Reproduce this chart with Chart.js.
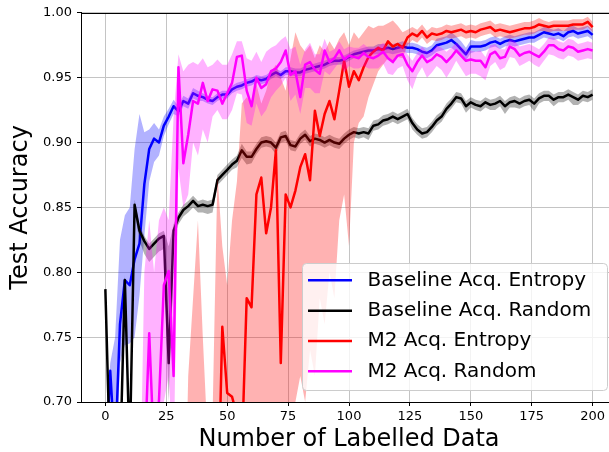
<!DOCTYPE html>
<html><head><meta charset="utf-8">
<script src="https://cdn.jsdelivr.net/npm/chart.js@4.4.1/dist/chart.umd.min.js"></script>
<style>html,body{margin:0;padding:0;overflow:hidden;background:#fff;width:609px;height:452px}canvas{display:block}</style>
</head><body>
<canvas id="c" width="625" height="452"></canvas>
<script>
const xValues = [0,2,4,6,8,10,12,14,16,18,20,22,24,26,28,30,32,34,36,38,40,42,44,46,48,50,52,54,56,58,60,62,64,66,68,70,72,74,76,78,80,82,84,86,88,90,92,94,96,98,100,102,104,106,108,110,112,114,116,118,120,122,124,126,128,130,132,134,136,138,140,142,144,146,148,150,152,154,156,158,160,162,164,166,168,170,172,174,176,178,180,182,184,186,188,190,192,194,196,198,200];

const seriesNames = ['Baseline Acq. Entropy','Baseline Acq. Random','M2 Acq. Entropy','M2 Acq. Random'];

const blueMean = [0.65,0.724,0.66,0.76,0.794,0.79,0.81,0.822,0.868,0.895,
 0.903,0.9,0.913,0.92,0.928,0.924,0.932,0.93,0.938,0.936,
 0.935,0.933,0.932,0.935,0.937,0.937,0.941,0.943,0.944,0.946,
 0.947,0.949,0.948,0.949,0.952,0.954,0.952,0.955,0.955,0.954,
 0.954,0.956,0.957,0.958,0.959,0.96,0.962,0.963,0.963,0.964,
 0.966,0.968,0.969,0.97,0.971,0.971,0.972,0.972,0.973,0.972,
 0.973,0.974,0.973,0.973,0.972,0.97,0.969,0.971,0.975,0.976,
 0.977,0.979,0.976,0.972,0.968,0.974,0.974,0.974,0.975,0.977,
 0.978,0.976,0.978,0.979,0.978,0.979,0.98,0.981,0.981,0.983,
 0.985,0.984,0.983,0.984,0.982,0.985,0.986,0.984,0.985,0.986,
 0.983];
const blueDown = [0.05,0.03,0.03,0.03,0.05,0.045,0.06,0.04,0.04,0.025,
 0.018,0.01,0.008,0.006,0.006,0.004,0.004,0.004,0.004,0.004,
 0.003,0.003,0.003,0.003,0.003,0.003,0.003,0.003,0.003,0.003,
 0.003,0.003,0.003,0.003,0.003,0.003,0.003,0.003,0.003,0.003,
 0.003,0.003,0.003,0.003,0.003,0.003,0.003,0.003,0.003,0.003,
 0.003,0.003,0.003,0.003,0.003,0.003,0.004,0.004,0.004,0.004,
 0.004,0.004,0.004,0.004,0.004,0.004,0.004,0.004,0.005,0.005,
 0.005,0.006,0.006,0.006,0.005,0.005,0.004,0.004,0.004,0.004,
 0.004,0.004,0.004,0.004,0.004,0.004,0.004,0.004,0.004,0.004,
 0.004,0.004,0.004,0.004,0.004,0.004,0.004,0.004,0.004,0.004,
 0.004];
const blueUp = [0.03,0.006,0.09,0.065,0.05,0.06,0.085,0.1,0.04,0.015,
 0.012,0.01,0.007,0.006,0.005,0.004,0.004,0.004,0.004,0.004,
 0.003,0.003,0.003,0.003,0.003,0.003,0.003,0.003,0.003,0.003,
 0.003,0.003,0.003,0.003,0.003,0.003,0.003,0.003,0.003,0.003,
 0.003,0.003,0.003,0.003,0.003,0.003,0.003,0.003,0.003,0.003,
 0.003,0.003,0.003,0.003,0.003,0.003,0.004,0.004,0.004,0.004,
 0.004,0.004,0.004,0.004,0.004,0.004,0.004,0.004,0.005,0.005,
 0.005,0.006,0.006,0.006,0.005,0.005,0.004,0.004,0.004,0.004,
 0.004,0.004,0.004,0.004,0.004,0.004,0.004,0.004,0.004,0.004,
 0.004,0.004,0.004,0.004,0.004,0.004,0.004,0.004,0.004,0.004,
 0.004];

const blackMean = [0.787,0.65,0.65,0.65,0.794,0.66,0.852,0.832,0.824,0.818,
 0.822,0.826,0.828,0.73,0.832,0.842,0.848,0.851,0.855,0.851,
 0.852,0.851,0.852,0.871,0.875,0.879,0.883,0.886,0.894,0.889,
 0.889,0.895,0.9,0.901,0.9,0.896,0.904,0.905,0.898,0.897,
 0.903,0.906,0.901,0.903,0.902,0.9,0.902,0.9,0.899,0.903,
 0.906,0.908,0.907,0.908,0.907,0.913,0.914,0.917,0.918,0.92,
 0.918,0.92,0.922,0.915,0.91,0.907,0.908,0.912,0.917,0.92,
 0.926,0.93,0.935,0.934,0.928,0.931,0.929,0.928,0.931,0.929,
 0.93,0.932,0.928,0.931,0.932,0.93,0.932,0.933,0.93,0.934,
 0.936,0.936,0.933,0.935,0.935,0.937,0.935,0.933,0.936,0.935,
 0.937];
const blackDown = [0.003,0,0,0,0.004,0,0.006,0.008,0.01,0.01,
 0.01,0.01,0.01,0.03,0.006,0.005,0.005,0.005,0.005,0.005,
 0.006,0.006,0.006,0.004,0.004,0.004,0.004,0.005,0.006,0.006,
 0.005,0.004,0.004,0.004,0.004,0.005,0.004,0.004,0.004,0.004,
 0.004,0.004,0.004,0.004,0.004,0.004,0.004,0.004,0.004,0.004,
 0.004,0.004,0.004,0.004,0.005,0.004,0.004,0.004,0.004,0.004,
 0.004,0.004,0.004,0.005,0.004,0.004,0.004,0.004,0.004,0.004,
 0.004,0.004,0.004,0.004,0.005,0.004,0.004,0.004,0.004,0.004,
 0.005,0.004,0.006,0.004,0.005,0.004,0.004,0.004,0.006,0.004,
 0.004,0.004,0.005,0.004,0.004,0.004,0.006,0.004,0.004,0.004,
 0.004];
const blackUp = [0.003,0,0,0,0.004,0,0.004,0.004,0.004,0.004,
 0.004,0.004,0.004,0.09,0.005,0.004,0.004,0.004,0.004,0.004,
 0.004,0.004,0.004,0.004,0.004,0.004,0.004,0.004,0.005,0.004,
 0.004,0.004,0.004,0.004,0.004,0.004,0.004,0.004,0.004,0.004,
 0.004,0.004,0.004,0.004,0.004,0.004,0.004,0.004,0.004,0.004,
 0.004,0.004,0.004,0.004,0.004,0.004,0.004,0.004,0.004,0.004,
 0.004,0.004,0.004,0.004,0.004,0.004,0.004,0.004,0.004,0.004,
 0.004,0.004,0.004,0.004,0.004,0.004,0.004,0.004,0.004,0.004,
 0.004,0.004,0.004,0.004,0.004,0.004,0.004,0.004,0.004,0.004,
 0.004,0.004,0.004,0.004,0.004,0.004,0.004,0.004,0.004,0.004,
 0.004];

const redMean = [0.55,0.55,0.55,0.55,0.55,0.55,0.55,0.55,0.55,0.55,
 0.55,0.55,0.55,0.55,0.55,0.55,0.55,0.55,0.55,0.55,
 0.55,0.55,0.55,0.6,0.758,0.707,0.704,0.69,0.66,0.78,
 0.773,0.86,0.873,0.83,0.85,0.894,0.73,0.86,0.85,0.863,
 0.881,0.891,0.871,0.9245,0.905,0.922,0.932,0.918,0.94,0.963,
 0.943,0.955,0.948,0.958,0.966,0.97,0.973,0.971,0.978,0.974,
 0.976,0.973,0.981,0.984,0.982,0.986,0.981,0.984,0.983,0.984,
 0.986,0.985,0.986,0.987,0.985,0.986,0.985,0.987,0.988,0.989,
 0.986,0.987,0.986,0.985,0.986,0.987,0.988,0.988,0.989,0.991,
 0.99,0.989,0.99,0.99,0.99,0.99,0.991,0.991,0.991,0.993,
 0.989];
const redDown = [0,0,0,0,0,0,0,0,0,0,
 0,0,0,0,0,0,0,0,0,0,
 0,0,0,0.05,0.138,0.107,0.104,0.09,0.06,0.13,
 0.093,0.16,0.213,0.13,0.17,0.244,0.07,0.16,0.17,0.163,
 0.161,0.191,0.131,0.2045,0.125,0.162,0.132,0.138,0.1,0.103,
 0.123,0.055,0.033,0.038,0.031,0.025,0.018,0.011,0.013,0.012,
 0.01,0.008,0.006,0.005,0.005,0.005,0.005,0.005,0.005,0.005,
 0.005,0.005,0.005,0.005,0.005,0.005,0.005,0.005,0.005,0.005,
 0.005,0.005,0.005,0.005,0.005,0.005,0.005,0.005,0.005,0.005,
 0.004,0.004,0.004,0.004,0.004,0.004,0.004,0.004,0.004,0.004,
 0.004];
const redUp = [0,0,0,0,0,0,0,0,0,0,
 0,0,0,0,0,0,0,0.17,0.23,0.29,
 0.2,0.12,0.14,0.275,0.062,0.083,0.136,0.18,0.27,0.155,
 0.157,0.085,0.057,0.11,0.105,0.066,0.22,0.08,0.115,0.122,
 0.094,0.079,0.104,0.0405,0.07,0.048,0.046,0.054,0.04,0.022,
 0.032,0.03,0.032,0.027,0.024,0.018,0.017,0.019,0.014,0.02,
 0.014,0.012,0.006,0.005,0.005,0.005,0.005,0.005,0.005,0.005,
 0.005,0.005,0.005,0.005,0.005,0.005,0.005,0.005,0.005,0.005,
 0.005,0.005,0.005,0.005,0.005,0.005,0.005,0.005,0.005,0.005,
 0.004,0.004,0.004,0.004,0.004,0.004,0.004,0.004,0.004,0.004,
 0.004];

const magMean = [0.6,0.6,0.6,0.6,0.6,0.6,0.6,0.6,0.65,0.753,
 0.66,0.701,0.79,0.801,0.72,0.958,0.884,0.906,0.932,0.93,
 0.946,0.932,0.941,0.94,0.93,0.938,0.946,0.966,0.967,0.94,
 0.928,0.95,0.942,0.945,0.955,0.957,0.962,0.971,0.952,0.955,
 0.935,0.96,0.962,0.956,0.953,0.971,0.962,0.965,0.971,0.964,
 0.967,0.966,0.965,0.969,0.966,0.965,0.967,0.97,0.965,0.962,
 0.967,0.968,0.96,0.955,0.962,0.967,0.962,0.964,0.968,0.966,
 0.962,0.966,0.971,0.967,0.963,0.964,0.963,0.963,0.958,0.968,
 0.97,0.965,0.966,0.974,0.972,0.967,0.969,0.97,0.968,0.966,
 0.97,0.975,0.975,0.972,0.971,0.974,0.973,0.97,0.971,0.972,
 0.971];
const magDown = [0,0,0,0,0,0,0,0,0.05,0.093,
 0.06,0.081,0.09,0.081,0.07,0.078,0.034,0.046,0.032,0.04,
 0.036,0.032,0.021,0.015,0.012,0.02,0.021,0.028,0.03,0.025,
 0.015,0.02,0.022,0.02,0.02,0.017,0.018,0.021,0.02,0.018,
 0.013,0.018,0.02,0.018,0.015,0.016,0.01,0.008,0.009,0.01,
 0.008,0.009,0.008,0.01,0.009,0.008,0.01,0.009,0.012,0.01,
 0.01,0.009,0.012,0.014,0.01,0.009,0.012,0.01,0.009,0.01,
 0.012,0.01,0.008,0.01,0.012,0.011,0.01,0.012,0.01,0.009,
 0.008,0.009,0.008,0.008,0.007,0.008,0.008,0.007,0.008,0.008,
 0.007,0.007,0.008,0.007,0.007,0.007,0.007,0.007,0.007,0.007,
 0.007];
const magUp = [0,0,0,0,0,0,0,0,0.15,0.087,
 0.14,0.139,0.06,0.039,0.2,0.01,0.071,0.054,0.03,0.03,
 0.019,0.026,0.019,0.024,0.03,0.022,0.022,0.012,0.011,0.025,
 0.035,0.02,0.02,0.025,0.018,0.018,0.017,0.011,0.02,0.019,
 0.025,0.012,0.015,0.012,0.015,0.009,0.008,0.007,0.007,0.008,
 0.007,0.007,0.008,0.007,0.007,0.008,0.007,0.007,0.008,0.008,
 0.007,0.007,0.008,0.008,0.007,0.007,0.008,0.007,0.007,0.007,
 0.008,0.007,0.006,0.007,0.008,0.007,0.007,0.008,0.008,0.007,
 0.006,0.007,0.006,0.006,0.006,0.007,0.006,0.006,0.006,0.006,
 0.006,0.006,0.006,0.006,0.006,0.006,0.006,0.006,0.006,0.006,
 0.006];

const xTickValues = [0,25,50,75,100,125,150,175,200];
const xTickLabels = ['0','25','50','75','100','125','150','175','200'];
const yTickValues = [0.70,0.75,0.80,0.85,0.90,0.95,1.00];
const yTickLabels = ['0.70','0.75','0.80','0.85','0.90','0.95','1.00'];

const FONT = 'DejaVu Sans';
const series = [
  {name: seriesNames[0], mean: blueMean, down: blueDown, up: blueUp, color: '#0000ff', band: 'rgba(0,0,255,0.3)'},
  {name: seriesNames[1], mean: blackMean, down: blackDown, up: blackUp, color: '#000000', band: 'rgba(0,0,0,0.3)'},
  {name: seriesNames[2], mean: redMean, down: redDown, up: redUp, color: '#ff0000', band: 'rgba(255,0,0,0.3)'},
  {name: seriesNames[3], mean: magMean, down: magDown, up: magUp, color: '#ff00ff', band: 'rgba(255,0,255,0.3)'}
];

const datasets = [];
series.forEach((s, k) => {
  const base = 12 - 3 * k;
  datasets.push({label: s.name + ' lo', data: xValues.map((x, i) => ({x, y: s.mean[i] - s.down[i]})),
    borderColor: 'rgba(0,0,0,0)', borderWidth: 0, pointRadius: 0, fill: false, order: base});
  datasets.push({label: s.name + ' hi', data: xValues.map((x, i) => ({x, y: s.mean[i] + s.up[i]})),
    borderColor: 'rgba(0,0,0,0)', borderWidth: 0, pointRadius: 0, fill: '-1', backgroundColor: s.band, order: base - 1});
  datasets.push({label: s.name, data: xValues.map((x, i) => ({x, y: s.mean[i]})),
    borderColor: s.color, borderWidth: 2.5, pointRadius: 0, fill: false, order: base - 2, clip: 0,
    borderJoinStyle: 'round', borderCapStyle: 'butt'});
});

const decor = {
  id: 'decor',
  afterDatasetsDraw(chart) {
    const {ctx, chartArea: a} = chart;
    ctx.save();
    ctx.strokeStyle = '#000';
    ctx.lineWidth = 1;
    ctx.beginPath();
    ctx.moveTo(a.left, Math.round(a.top) + 0.5);
    ctx.lineTo(a.right, Math.round(a.top) + 0.5);
    ctx.moveTo(Math.round(a.right) - 0.5, a.top);
    ctx.lineTo(Math.round(a.right) - 0.5, a.bottom);
    ctx.stroke();
    ctx.restore();
  },
  afterDraw(chart) {
    const {ctx} = chart;
    const bx = 302, by = 263, bw = 305, bh = 127;
    ctx.save();
    ctx.beginPath();
    ctx.roundRect(bx + 0.5, by + 0.5, bw, bh, 4);
    ctx.fillStyle = 'rgba(255,255,255,0.8)';
    ctx.fill();
    ctx.strokeStyle = '#cccccc';
    ctx.lineWidth = 1;
    ctx.stroke();
    ctx.font = '20px "' + FONT + '"';
    ctx.textBaseline = 'middle';
    ctx.textAlign = 'left';
    series.forEach((s, k) => {
      const y = 280.3 + k * 30.35;
      ctx.beginPath();
      ctx.moveTo(308, y);
      ctx.lineTo(352, y);
      ctx.strokeStyle = s.color;
      ctx.lineWidth = 2.5;
      ctx.stroke();
      ctx.fillStyle = '#000';
      ctx.fillText(s.name, 367.5, y);
    });
    ctx.restore();
  }
};

new Chart(document.getElementById('c'), {
  type: 'line',
  data: {datasets},
  plugins: [decor],
  options: {
    responsive: false,
    devicePixelRatio: 1,
    animation: false,
    layout: {padding: {top: 12, right: 8, bottom: 0, left: 0}},
    plugins: {legend: {display: false}, tooltip: {enabled: false}},
    elements: {line: {tension: 0}},
    scales: {
      x: {
        type: 'linear', min: -10, max: 210,
        afterBuildTicks: (axis) => { axis.ticks = xTickValues.map(v => ({value: v})); },
        afterFit: (s) => { s.height = 50; },
        ticks: {callback: (v, i) => xTickLabels[i], font: {family: FONT, size: 13}, color: '#000', padding: 3, maxRotation: 0, autoSkip: false},
        grid: {color: '#c4c4c4', lineWidth: 1, tickColor: '#000', tickLength: 4, tickWidth: 1},
        border: {display: true, color: '#000', width: 1, z: 1},
        title: {display: true, text: 'Number of Labelled Data', color: '#000', font: {family: FONT, size: 24, lineHeight: 1}, padding: {top: 0, bottom: 0}}
      },
      y: {
        type: 'linear', min: 0.70, max: 1.00,
        afterBuildTicks: (axis) => { axis.ticks = yTickValues.map(v => ({value: v})); },
        afterFit: (s) => { s.width = 81; },
        ticks: {callback: (v, i) => yTickLabels[i], font: {family: FONT, size: 13}, color: '#000', padding: 5, autoSkip: false},
        grid: {color: '#c4c4c4', lineWidth: 1, tickColor: '#000', tickLength: 4, tickWidth: 1},
        border: {display: true, color: '#000', width: 1, z: 1},
        title: {display: true, text: 'Test Accuracy', color: '#000', font: {family: FONT, size: 24, lineHeight: 1}, padding: {top: 9, bottom: 0}}
      }
    }
  }
});
</script>
</body></html>
